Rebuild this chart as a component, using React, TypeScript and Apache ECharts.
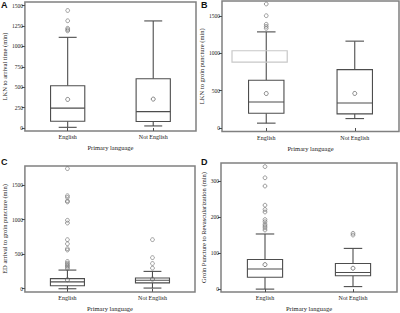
import React, { useEffect, useRef } from "react";
import * as echarts from "echarts";

const categories = ["English", "Not English"];

// [categoryIndex, low whisker, Q1, median, Q3, high whisker, mean]
const boxesA = [
  [0, 8, 83, 243, 517, 1111, 350],
  [1, 25, 80, 200, 604, 1312, 354],
];
const outliersA = [[0, 1190], [0, 1205], [0, 1222], [0, 1314], [0, 1440]];
const ticksA = [0, 250, 500, 750, 1000, 1250, 1500];

const boxesB = [
  [0, 65, 197, 348, 640, 1288, 462],
  [1, 126, 189, 335, 782, 1164, 463],
];
const outliersB = [[0, 1336], [0, 1362], [0, 1390], [0, 1505], [0, 1662]];
const ticksB = [0, 500, 1000, 1500];
const grayBoxB = [[0, 884, 1035]];

const boxesC = [
  [0, 0, 43, 99, 146, 270, 130],
  [1, 10, 85, 123, 156, 251, 140],
];
const outliersC = [
  [0, 290], [0, 310], [0, 330], [0, 350], [0, 370], [0, 395], [0, 560], [0, 580],
  [0, 650], [0, 710], [0, 950], [0, 990], [0, 1255], [0, 1272], [0, 1320], [0, 1345], [0, 1737],
  [1, 298], [1, 365], [1, 450], [1, 710],
];
const ticksC = [0, 500, 1000, 1500];

const boxesD = [
  [0, 0, 33, 56, 82, 153, 68],
  [1, 7, 37, 46, 71, 113, 58],
];
const outliersD = [
  [0, 164], [0, 170], [0, 175], [0, 180], [0, 187], [0, 193], [0, 214], [0, 221],
  [0, 233], [0, 286], [0, 309], [0, 340],
  [1, 150], [1, 155],
];
const ticksD = [0, 100, 200, 300];

const yNames = [
  "LKN to arrival time (min)",
  "LKN to groin puncture (min)",
  "ED arrival to groin puncture (min)",
  "Groin Puncture to Revascularization (min)",
];
const panelLetters = ["A", "B", "C", "D"];

const FONT = "Liberation Serif";
const LINE = "#4d4d4d";
const TEXT = "#222";

function boxRender(params: any, api: any) {
  const cat = api.value(0);
  const p = (v: number) => api.coord([cat, v]);
  const band = api.size([1, 0])[0];
  const x = p(api.value(3))[0];
  const low = p(api.value(1))[1];
  const q1 = p(api.value(2))[1];
  const med = p(api.value(3))[1];
  const q3 = p(api.value(4))[1];
  const high = p(api.value(5))[1];
  const mean = p(api.value(6))[1];
  const half = band * 0.2;
  const cap = band * 0.105;
  const st = { stroke: LINE, lineWidth: 1.1, fill: null };
  return {
    type: "group",
    children: [
      { type: "line", shape: { x1: x, y1: low, x2: x, y2: q1 }, style: st },
      { type: "line", shape: { x1: x, y1: q3, x2: x, y2: high }, style: st },
      { type: "line", shape: { x1: x - cap, y1: low, x2: x + cap, y2: low }, style: st },
      { type: "line", shape: { x1: x - cap, y1: high, x2: x + cap, y2: high }, style: st },
      { type: "rect", shape: { x: x - half, y: q3, width: half * 2, height: q1 - q3 }, style: { stroke: LINE, lineWidth: 1.1, fill: "#fff" } },
      { type: "line", shape: { x1: x - half, y1: med, x2: x + half, y2: med }, style: st },
      { type: "circle", shape: { cx: x, cy: mean, r: 2 }, style: { stroke: "#666", lineWidth: 0.8, fill: null } },
    ],
  };
}

function grayRender(params: any, api: any) {
  const cat = api.value(0);
  const band = api.size([1, 0])[0];
  const lo = api.coord([cat, api.value(1)]);
  const hi = api.coord([cat, api.value(2)]);
  const x = lo[0];
  return {
    type: "rect",
    shape: { x: x - band * 0.387, y: hi[1], width: band * 0.624, height: lo[1] - hi[1] },
    style: { stroke: "#c8c8c8", lineWidth: 1.2, fill: null },
  };
}

export default function App() {
  const ref = useRef<HTMLDivElement>(null);
  useEffect(() => {
    document.body.style.margin = "0";
    const chart = echarts.init(ref.current!, null, { renderer: "svg" });
    const grids = [
      { left: 22, top: 2, width: 174, height: 129 },
      { left: 222, top: 1, width: 177, height: 130.5 },
      { left: 22, top: 166, width: 173, height: 128 },
      { left: 221, top: 163, width: 176, height: 131 },
    ];
    const ranges = [
      [-37, 1544],
      [-47, 1702],
      [-47, 1775],
      [-8, 350],
    ];
    const ticks = [ticksA, ticksB, ticksC, ticksD];
    const boxes = [boxesA, boxesB, boxesC, boxesD];
    const outs = [outliersA, outliersB, outliersC, outliersD];

    const series: any[] = [];
    boxes.forEach((b, i) => {
      series.push({
        type: "custom",
        xAxisIndex: i,
        yAxisIndex: i,
        renderItem: boxRender,
        data: b,
        z: 3,
        silent: true,
      });
      series.push({
        type: "scatter",
        xAxisIndex: i,
        yAxisIndex: i,
        data: outs[i],
        symbol: "circle",
        symbolSize: 3.8,
        itemStyle: { color: "rgba(0,0,0,0)", borderColor: "#666", borderWidth: 0.8 },
        z: 4,
        silent: true,
      });
    });
    series.push({
      type: "custom",
      xAxisIndex: 1,
      yAxisIndex: 1,
      renderItem: grayRender,
      data: grayBoxB,
      z: 5,
      silent: true,
    });

    chart.setOption({
      animation: false,
      textStyle: { fontFamily: FONT },
      grid: grids.map((g) => ({
        ...g,
        show: true,
        borderColor: "#808080",
        borderWidth: 1.5,
        backgroundColor: "transparent",
        containLabel: false,
      })),
      xAxis: grids.map((_, i) => ({
        type: "category",
        gridIndex: i,
        data: categories,
        axisLine: { show: false },
        axisTick: { show: true, alignWithLabel: true, length: 3, lineStyle: { color: LINE } },
        axisLabel: { fontSize: 6, color: TEXT, margin: 3, fontFamily: FONT },
        name: "Primary language",
        nameLocation: "middle",
        nameGap: 13,
        nameTextStyle: { fontSize: 6.5, color: TEXT, fontFamily: FONT },
        splitLine: { show: false },
      })),
      yAxis: grids.map((_, i) => ({
        type: "value",
        gridIndex: i,
        min: ranges[i][0],
        max: ranges[i][1],
        axisLine: { show: false },
        axisTick: { show: true, length: 3, customValues: ticks[i], lineStyle: { color: LINE } },
        axisLabel: {
          fontSize: 5.5,
          color: TEXT,
          margin: 2,
          customValues: ticks[i],
          fontFamily: FONT,
          formatter: (v: number) => String(v),
        },
        splitLine: { show: false },
        name: yNames[i],
        nameLocation: "middle",
        nameGap: 14,
        nameRotate: 90,
        nameTextStyle: { fontSize: 6.5, color: TEXT, fontFamily: FONT },
      })),
      graphic: panelLetters.map((t, i) => ({
        type: "text",
        x: i % 2 === 0 ? 1 : 201,
        y: i < 2 ? 0 : 157,
        style: { text: t, font: "bold 9px 'Liberation Sans'", fill: "#111" },
      })),
      series,
    });
    return () => chart.dispose();
  }, []);
  return <div ref={ref} style={{ width: 400, height: 313 }} />;
}
